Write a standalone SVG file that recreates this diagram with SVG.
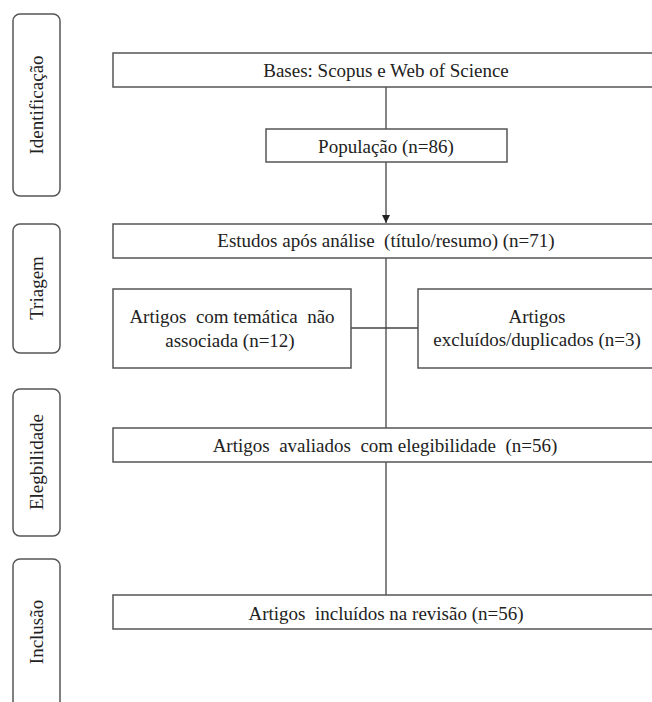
<svg xmlns="http://www.w3.org/2000/svg" width="652" height="702" viewBox="0 0 652 702">
<style>
.box{fill:#fff;stroke:#555;stroke-width:1.5}
.phase{fill:#fff;stroke:#555;stroke-width:1.5}
.t{font-family:"Liberation Serif","Times New Roman",serif;font-size:19px;fill:#222;text-anchor:middle}
.ln{stroke:#444;stroke-width:1.3;fill:none}
</style>
<defs>
<marker id="arr" viewBox="0 0 10 10" refX="10" refY="5" markerWidth="8" markerHeight="8" markerUnits="userSpaceOnUse" orient="auto">
<path d="M0,0 L10,5 L0,10 z" fill="#222"/>
</marker>
</defs>
<rect width="652" height="702" fill="#fff"/>
<g id="phase-identificacao"><rect class="phase" x="13" y="14" width="47" height="182" rx="7"/><text class="t" transform="translate(43,105) rotate(-90)">Identificação</text></g>
<g id="phase-triagem"><rect class="phase" x="13" y="224" width="47" height="129" rx="7"/><text class="t" transform="translate(43,288) rotate(-90)">Triagem</text></g>
<g id="phase-elegibilidade"><rect class="phase" x="13" y="389" width="47" height="147" rx="7"/><text class="t" transform="translate(43,462) rotate(-90)">Elegbilidade</text></g>
<g id="phase-inclusao"><rect class="phase" x="13" y="559" width="47" height="150" rx="7"/><text class="t" transform="translate(43,632) rotate(-90)">Inclusão</text></g>
<g id="connectors">
<line class="ln" x1="386" y1="87" x2="386" y2="129"/>
<line class="ln" x1="386" y1="162" x2="386" y2="223" marker-end="url(#arr)"/>
<line class="ln" x1="386" y1="258" x2="386" y2="428"/>
<line class="ln" x1="351" y1="328" x2="418" y2="328"/>
<line class="ln" x1="386" y1="462" x2="386" y2="595"/>
</g>
<g id="bases"><rect class="box" x="113" y="53" width="546" height="34"/><text class="t" x="386" y="77">Bases: Scopus e Web of Science</text></g>
<g id="populacao"><rect class="box" x="266" y="129" width="241" height="33"/><text class="t" x="386" y="153">População (n=86)</text></g>
<g id="estudos"><rect class="box" x="113" y="224" width="546" height="34"/><text class="t" x="386" y="247" xml:space="preserve">Estudos após análise  (título/resumo) (n=71)</text></g>
<g id="tematica"><rect class="box" x="113" y="289" width="238" height="79"/><text class="t" x="232" y="323" xml:space="preserve">Artigos  com temática  não</text><text class="t" x="230" y="347">associada (n=12)</text></g>
<g id="excluidos"><rect class="box" x="418" y="289" width="238" height="79"/><text class="t" x="537" y="323">Artigos</text><text class="t" x="537" y="346">excluídos/duplicados (n=3)</text></g>
<g id="elegibilidade"><rect class="box" x="113" y="428" width="546" height="34"/><text class="t" x="385" y="452" xml:space="preserve">Artigos  avaliados  com elegibilidade  (n=56)</text></g>
<g id="inclusao"><rect class="box" x="113" y="595" width="546" height="34"/><text class="t" x="386" y="620" xml:space="preserve">Artigos  incluídos na revisão (n=56)</text></g>
</svg>
